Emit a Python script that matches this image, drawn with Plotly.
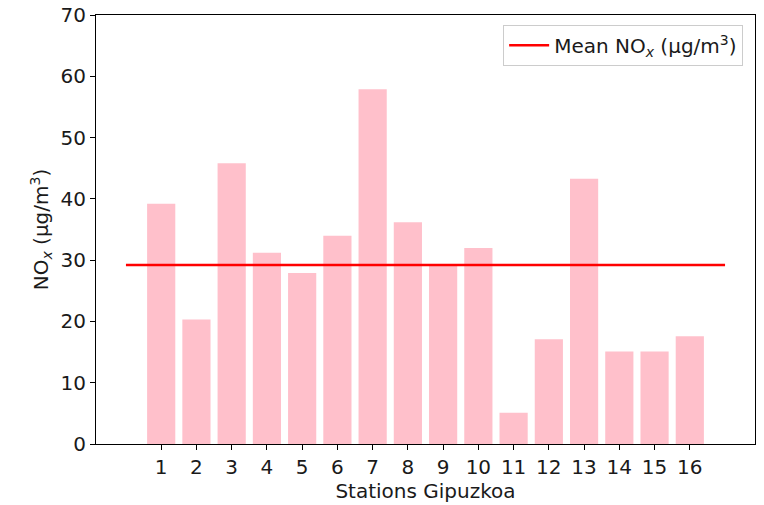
import plotly.graph_objects as go

stations = list(range(1, 17))
nox = [39.2, 20.3, 45.8, 31.2, 27.9, 34.0, 57.9, 36.2, 29.2, 32.0, 5.1, 17.1, 43.3, 15.1, 15.1, 17.6]
mean_val = sum(nox) / len(nox)
line_x = [0, 17]
line_y = [mean_val, mean_val]
tick_labels = [str(s) for s in stations]

FS = 20
font = dict(family="DejaVu Sans", size=FS, color="#1a1a1a")

fig = go.Figure()
fig.add_trace(go.Bar(x=stations, y=nox, width=0.8, marker=dict(color="pink", line=dict(width=0)),
                     showlegend=False))
fig.add_trace(go.Scatter(x=line_x, y=line_y, mode="lines", line=dict(color="red", width=2.5),
                         name="Mean NO<sub><i>x</i></sub> (μg/m<sup>3</sup>)"))

fig.update_layout(
    width=764, height=505,
    margin=dict(l=96, r=9, t=15, b=61),
    plot_bgcolor="white", paper_bgcolor="white",
    font=font,
    legend=dict(x=0.982, y=0.977, xanchor="right", yanchor="top",
                bgcolor="rgba(255,255,255,0.8)", bordercolor="#cccccc", borderwidth=1,
                itemwidth=40, font=font),
    xaxis=dict(range=[-0.85, 17.85], tickmode="array", tickvals=stations, ticktext=tick_labels,
               tickfont=font, automargin=False,
               showgrid=False, zeroline=False, showline=True, linecolor="black", linewidth=1.2,
               mirror=True, ticks="outside", ticklen=5, tickcolor="black",
               title=dict(text="Stations Gipuzkoa", standoff=4, font=font)),
    yaxis=dict(range=[0, 70], tickvals=[0, 10, 20, 30, 40, 50, 60, 70],
               tickfont=font, automargin=False,
               showgrid=False, zeroline=False, showline=True, linecolor="black", linewidth=1.2,
               mirror=True, ticks="outside", ticklen=5, tickcolor="black",
               title=dict(text="NO<sub><i>x</i></sub> (μg/m<sup>3</sup>)", standoff=6, font=font)),
)

fig.write_html("out.html")
